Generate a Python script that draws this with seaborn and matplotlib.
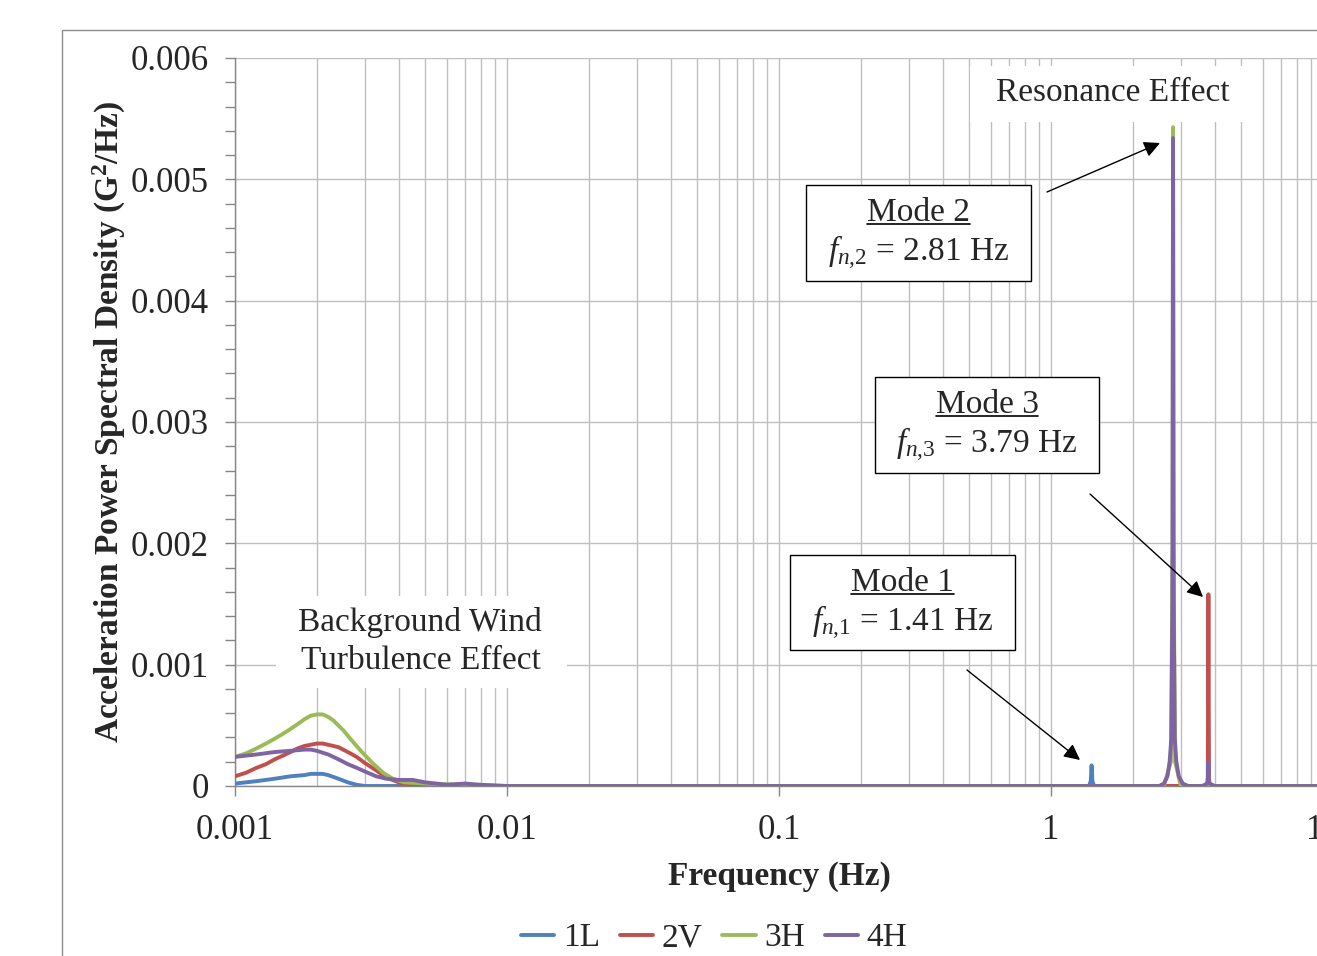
import matplotlib
matplotlib.use("Agg")
import matplotlib.pyplot as plt
import seaborn as sns
import pandas as pd
from matplotlib.patches import Rectangle, FancyArrowPatch
from matplotlib.lines import Line2D
from matplotlib.ticker import FixedLocator, FixedFormatter, NullFormatter

# ---------------- data ----------------
series_names = ["1L", "2V", "3H", "4H"]
series_colors = ["#4F81BD", "#C0504D", "#9BBB59", "#8064A2"]

freq_1L = [0.001, 0.0012, 0.0014, 0.0016, 0.0018, 0.0019, 0.002, 0.0021, 0.0022, 0.0024,
           0.0026, 0.0028, 0.003, 0.004, 0.01, 0.1, 1.0, 1.38, 1.40, 1.41, 1.42, 1.44, 2.0, 10.0]
psd_1L = [0.00002, 0.00004, 0.00006, 0.00008, 0.00009, 0.0001, 0.0001, 0.0001, 0.00009, 0.00006,
          0.00003, 0.00001, 0.0, 0.0, 0.0, 0.0, 0.0, 0.0, 0.00004, 0.00017, 0.00004, 0.0, 0.0, 0.0]

freq_2V = [0.001, 0.0011, 0.0012, 0.0013, 0.0014, 0.0015, 0.0016, 0.0017, 0.0018, 0.0019,
           0.002, 0.0021, 0.0022, 0.0024, 0.0026, 0.0028, 0.003, 0.0033, 0.0036, 0.004,
           0.0045, 0.005, 0.01, 0.1, 1.0, 3.70, 3.77, 3.79, 3.81, 3.88, 10.0]
psd_2V = [0.00008, 0.00011, 0.00015, 0.00018, 0.00022, 0.00025, 0.00028, 0.00031, 0.00033, 0.00034,
          0.00035, 0.00035, 0.00034, 0.00032, 0.00028, 0.00024, 0.00019, 0.00013, 0.00007, 0.00003,
          0.00001, 0.0, 0.0, 0.0, 0.0, 0.0, 0.00003, 0.00158, 0.00003, 0.0, 0.0]

freq_3H = [0.001, 0.0011, 0.0012, 0.0013, 0.0014, 0.0015, 0.0016, 0.0017, 0.0018, 0.0019,
           0.002, 0.0021, 0.0022, 0.0023, 0.0025, 0.0027, 0.0029, 0.0032, 0.0035, 0.0038,
           0.0042, 0.005, 0.007, 0.01, 0.1, 1.0, 2.6, 2.76, 2.80, 2.81, 2.82, 2.86, 3.0, 10.0]
psd_3H = [0.00024, 0.00027, 0.00031, 0.00035, 0.00039, 0.00043, 0.00047, 0.00051, 0.00055, 0.00058,
          0.00059, 0.00059, 0.00057, 0.00054, 0.00046, 0.00037, 0.00029, 0.00019, 0.00011, 0.00006,
          0.00003, 0.00002, 0.00001, 0.0, 0.0, 0.0, 0.0, 0.0002, 0.002, 0.00543, 0.002, 0.0002, 0.0, 0.0]

freq_4H = [0.001, 0.0012, 0.0014, 0.0016, 0.0018, 0.0019, 0.002, 0.0022, 0.0024, 0.0026,
           0.0028, 0.003, 0.0033, 0.0036, 0.004, 0.0045, 0.005, 0.0055, 0.006, 0.007,
           0.008, 0.01, 0.1, 1.0,
           2.5, 2.6, 2.68, 2.73, 2.77, 2.795, 2.81, 2.825, 2.85, 2.89, 2.95, 3.05, 3.2,
           3.6, 3.75, 3.78, 3.79, 3.80, 3.83, 4.0, 10.0]
psd_4H = [0.00024, 0.00026, 0.00028, 0.00029, 0.0003, 0.0003, 0.00029, 0.00026, 0.00022, 0.00018,
          0.00015, 0.00012, 0.00008, 0.00006, 0.00005, 0.00005, 0.00003, 0.00002, 0.00001, 0.00002,
          0.00001, 0.0, 0.0, 0.0,
          0.0, 0.00002, 0.00008, 0.0002, 0.0004, 0.0015, 0.00534, 0.0015, 0.0004, 0.0002, 0.00008, 0.00002, 0.0,
          0.0, 0.00002, 0.00008, 0.0002, 0.00008, 0.00002, 0.0, 0.0]

x_ticks = [0.001, 0.01, 0.1, 1, 10]
x_tick_labels = ["0.001", "0.01", "0.1", "1", "10"]
y_ticks = [0, 0.001, 0.002, 0.003, 0.004, 0.005, 0.006]
y_tick_labels = ["0", "0.001", "0.002", "0.003", "0.004", "0.005", "0.006"]

x_label = "Frequency (Hz)"
y_label = "Acceleration Power Spectral Density (G$^{\\mathbf{2}}$/Hz)"

# ---------------- figure ----------------
sns.set_theme(style="white")
plt.rcParams["font.family"] = ["Liberation Serif", "DejaVu Serif"]
plt.rcParams["mathtext.fontset"] = "custom"
plt.rcParams["mathtext.rm"] = "Liberation Serif"
plt.rcParams["mathtext.it"] = "Liberation Serif:italic"
plt.rcParams["mathtext.bf"] = "Liberation Serif:bold"

W, H = 1317, 956
fig = plt.figure(figsize=(W / 100, H / 100), dpi=100)
fig.patch.set_facecolor("white")

def fx(px):
    return px / W

def fy(py):
    return 1 - py / H

ax_left, ax_right, ax_top, ax_bottom = 235, 1323, 58, 786
ax = fig.add_axes([fx(ax_left), fy(ax_bottom), (ax_right - ax_left) / W, (ax_bottom - ax_top) / H])

rows = []
for name, fr, ps in zip(series_names, [freq_1L, freq_2V, freq_3H, freq_4H],
                        [psd_1L, psd_2V, psd_3H, psd_4H]):
    for f, p in zip(fr, ps):
        rows.append({"freq": f, "psd": p, "series": name})
df = pd.DataFrame(rows)

sns.lineplot(data=df, x="freq", y="psd", hue="series", hue_order=series_names,
             palette=series_colors, estimator=None, linewidth=2.8, ax=ax, zorder=3)

ax.set_xscale("log")
ax.set_xlim(0.001, 10)
ax.set_ylim(0, 0.006)

ax.xaxis.set_major_locator(FixedLocator(x_ticks))
ax.xaxis.set_major_formatter(FixedFormatter(x_tick_labels))
ax.xaxis.set_minor_formatter(NullFormatter())
ax.yaxis.set_major_locator(FixedLocator(y_ticks))
ax.yaxis.set_major_formatter(FixedFormatter(y_tick_labels))
ax.yaxis.set_minor_locator(FixedLocator([i * 0.0002 for i in range(31)]))

grid_c = "#BFBFBF"
ax.grid(True, which="major", axis="both", color=grid_c, linewidth=1.0, zorder=0)
ax.grid(True, which="minor", axis="x", color=grid_c, linewidth=1.0, zorder=0)
ax.set_axisbelow(True)

for s in ["top", "right"]:
    ax.spines[s].set_visible(False)
for s in ["left", "bottom"]:
    ax.spines[s].set_color("#868686")
    ax.spines[s].set_linewidth(1.0)

ax.tick_params(axis="x", which="major", direction="out", length=7, width=1, color="#868686",
               labelsize=25, pad=13, bottom=True)
ax.tick_params(axis="x", which="minor", length=0)
ax.tick_params(axis="y", which="both", direction="out", length=7, width=1, color="#868686",
               labelsize=25, pad=12, left=True)

ax.set_xlabel(x_label, fontsize=24, fontweight="bold", labelpad=10)
ax.set_ylabel(y_label, fontsize=24, fontweight="bold", labelpad=2)

# legend
handles, labels = ax.get_legend_handles_labels()
ax.get_legend().remove()
fig.legend(handles, labels, loc="center", bbox_to_anchor=(fx(714), fy(938)), ncol=4,
           frameon=False, fontsize=24, handlelength=1.0, handletextpad=0.25,
           columnspacing=0.6)

# outer chart border
fig.patches.append(Rectangle((fx(62), fy(1000)), 2.0, fy(30) - fy(1000), transform=fig.transFigure,
                             fill=False, edgecolor="#8C8C8C", linewidth=1.0, zorder=0))

# white label backgrounds
def white_box(x0, y0, x1, y1):
    fig.patches.append(Rectangle((fx(x0), fy(y1)), fx(x1) - fx(x0), fy(y0) - fy(y1),
                                 transform=fig.transFigure, facecolor="white",
                                 edgecolor="none", zorder=5))

white_box(970, 66, 1245, 122)
fig.text(fx(1113), fy(93), "Resonance Effect", ha="center", va="center", fontsize=24, zorder=6)

white_box(276, 596, 567, 688)
fig.text(fx(420), fy(622), "Background Wind", ha="center", va="center", fontsize=24, zorder=6)
fig.text(fx(421), fy(661), "Turbulence Effect", ha="center", va="center", fontsize=24, zorder=6)

# mode boxes
mode_boxes = [
    ("Mode 2", r"$f_{\mathit{n{,}2}}$ = 2.81 Hz", (806, 185, 1031, 281)),
    ("Mode 3", r"$f_{\mathit{n{,}3}}$ = 3.79 Hz", (875, 377, 1099, 473)),
    ("Mode 1", r"$f_{\mathit{n{,}1}}$ = 1.41 Hz", (790, 555, 1015, 650)),
]
title_texts = []
for title, ftxt, (x0, y0, x1, y1) in mode_boxes:
    fig.patches.append(Rectangle((fx(x0), fy(y1)), fx(x1) - fx(x0), fy(y0) - fy(y1),
                                 transform=fig.transFigure, facecolor="white",
                                 edgecolor="black", linewidth=1.0, zorder=5))
    cx = (x0 + x1) / 2
    t = fig.text(fx(cx), fy(y0 + 28), title, ha="center", va="center", fontsize=24, zorder=6)
    title_texts.append(t)
    fig.text(fx(cx), fy(y0 + 68), ftxt, ha="center", va="center", fontsize=24, zorder=6)

fig.canvas.draw()
renderer = fig.canvas.get_renderer()
for t in title_texts:
    bb = t.get_window_extent(renderer)
    yline = bb.y0 + 4
    fig.lines.append(Line2D([bb.x0 / W, bb.x1 / W], [yline / H, yline / H],
                            transform=fig.transFigure, color="black", linewidth=1.2, zorder=7))

# arrows
arrow_props = dict(arrowstyle="-|>", color="black", lw=1.0, mutation_scale=24, shrinkA=0, shrinkB=0)
arrows = [((1047, 192), (1160, 143)), ((1090, 494), (1203, 597)), ((967, 670), (1080, 760))]
for (sx, sy), (ex, ey) in arrows:
    fig.add_artist(FancyArrowPatch((fx(sx), fy(sy)), (fx(ex), fy(ey)),
                                   transform=fig.transFigure, zorder=8, **arrow_props))

fig.savefig("out.png", dpi=100, facecolor="white")
